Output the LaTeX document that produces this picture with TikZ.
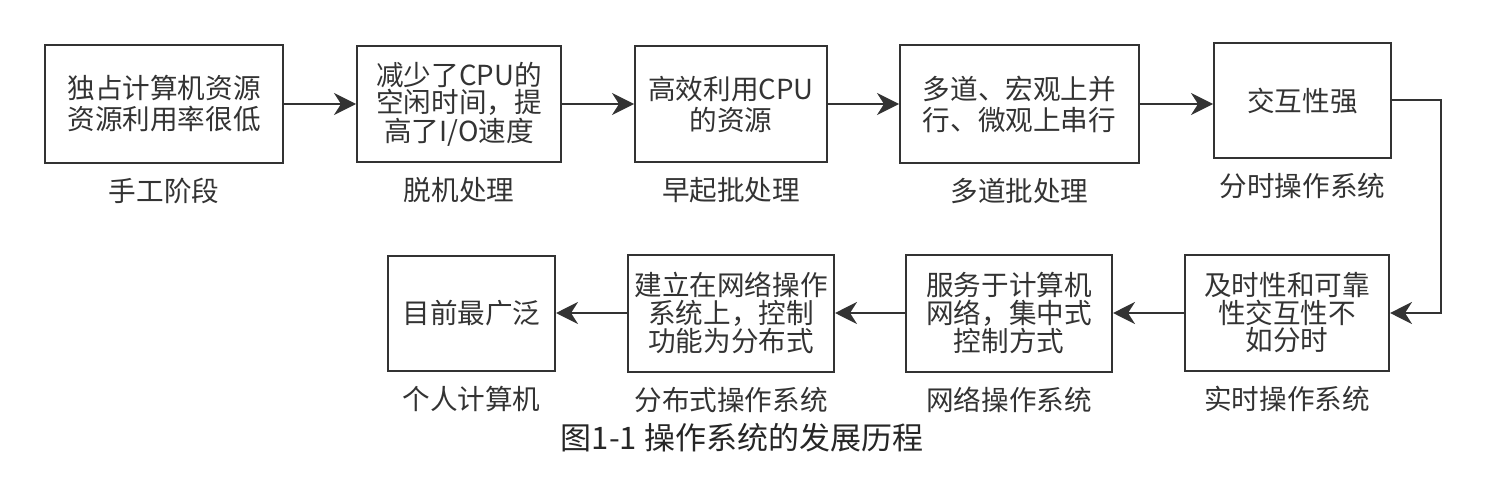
\documentclass[tikz,border=0pt]{standalone}
\usepackage{fontspec}
\setmainfont{Noto Sans CJK SC}
\usetikzlibrary{arrows.meta,positioning}
\definecolor{inkgray}{HTML}{333333}
\begin{document}
\begin{tikzpicture}[x=0.5pt,y=-0.5pt,
	stage/.style={draw=inkgray,line width=1pt,inner sep=0pt,align=center,text=inkgray,font=\fontsize{13.8}{15.5}\selectfont},
	stagethree/.style={stage,font=\fontsize{13.8}{12.2}\selectfont},
	era/.style={inner sep=0pt,text=inkgray,font=\fontsize{13.8}{15}\selectfont},
	flow/.style={draw=inkgray,line width=1pt,-{Stealth[length=11pt,width=11pt,inset=3.5pt]}}]
	\useasboundingbox (0,0) rectangle (1492,492);
	% top row
	\node (B1) at ( 164,  104)	[stage, minimum width=119pt, minimum height=59pt]	{独占计算机资源\\资源利用率很低};
	\node (B2) at ( 459,  104)	[stagethree, minimum width=102pt, minimum height=58pt]	{减少了CPU的\\空闲时间，提\\高了I/O速度};
	\node (B3) at ( 731,  104)	[stage, minimum width=96pt, minimum height=58pt]	{高效利用CPU\\的资源};
	\node (B4) at (1019.5, 104)	[stage, minimum width=119.5pt, minimum height=59pt]	{多道、宏观上并\\行、微观上串行};
	\node (B5) at (1302.5, 100.5)	[stage, minimum width=88.5pt, minimum height=57.5pt]	{交互性强};
	% bottom row
	\node (B6) at (1287,  313)	[stagethree, minimum width=102pt, minimum height=58pt]	{及时性和可靠\\性交互性不\\如分时};
	\node (B7) at (1009,  313)	[stagethree, minimum width=103pt, minimum height=58.5pt]	{服务于计算机\\网络，集中式\\控制方式};
	\node (B8) at ( 731,  313)	[stagethree, minimum width=103pt, minimum height=58.5pt]	{建立在网络操作\\系统上，控制\\功能为分布式};
	\node (B9) at ( 471.5, 313)	[stage, minimum width=83.5pt, minimum height=57.5pt]	{目前最广泛};
	% stage names
	\node (E1) [era, below=7pt of B1]	{手工阶段};
	\node (E2) [era, below=7pt of B2]	{脱机处理};
	\node (E3) [era, below=7pt of B3]	{早起批处理};
	\node (E4) [era, below=7pt of B4]	{多道批处理};
	\node (E5) [era, below=7pt of B5]	{分时操作系统};
	\node (E6) [era, below=7pt of B6]	{实时操作系统};
	\node (E7) [era, below=7pt of B7]	{网络操作系统};
	\node (E8) [era, below=7pt of B8]	{分布式操作系统};
	\node (E9) [era, below=7pt of B9]	{个人计算机};
	\node (cap) at (742, 438)	[inner sep=0pt, text=black!85, font=\fontsize{15.5}{16}\selectfont]	{图1-1 操作系统的发展历程};
	% arrows
	\draw[flow] (B1.east) -- (B2.west);
	\draw[flow] (B2.east) -- (B3.west);
	\draw[flow] (B3.east) -- (B4.west);
	\draw[flow] (B4.east) -- (B4.east -| B5.west);
	\coordinate (bend) at (1441, 100.5);
	\draw[flow] (B5.east) -- (bend) |- (B6.east);
	\draw[flow] (B6.west) -- (B7.east);
	\draw[flow] (B7.west) -- (B8.east);
	\draw[flow] (B8.west) -- (B9.east);
\end{tikzpicture}
\end{document}
